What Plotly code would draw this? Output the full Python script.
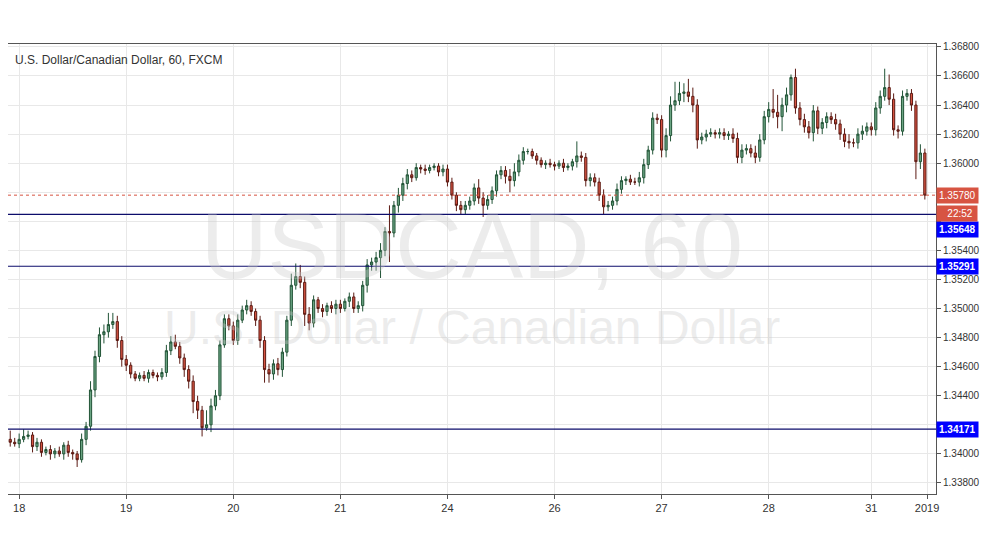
import plotly.graph_objects as go

# USDCAD hourly closes, one list per day
closes = [
    # Dec 18
    1.3408, 1.3407, 1.3410, 1.3412, 1.3413, 1.3405, 1.3408, 1.3401, 1.3403, 1.3400, 1.3402, 1.3400, 1.3406,
    1.3401, 1.3400, 1.3396, 1.3410, 1.3419, 1.3444, 1.3467, 1.3482, 1.3484, 1.3489, 1.3491, 1.3478, 1.3465,
    # Dec 19
    1.3461, 1.3455, 1.3452, 1.3454, 1.3452, 1.3456, 1.3454, 1.3453, 1.3456, 1.3471, 1.3477, 1.3474,
    1.3466, 1.3458, 1.3450, 1.3436, 1.3430, 1.3418, 1.3420, 1.3433, 1.3440, 1.3475, 1.3493, 1.3488,
    # Dec 20
    1.3478, 1.3492, 1.3499, 1.3502, 1.3498, 1.3492, 1.3478, 1.3458, 1.3455, 1.3462, 1.3458, 1.3470,
    1.3492, 1.3516, 1.3522, 1.3518, 1.3496, 1.3490, 1.3506, 1.3500, 1.3498, 1.3502, 1.3500, 1.3503,
    # Dec 21
    1.3500, 1.3505, 1.3508, 1.3500, 1.3502, 1.3516, 1.3530, 1.3532, 1.3535, 1.3540, 1.3553, 1.3552,
    1.3571, 1.3578, 1.3586, 1.3592, 1.3590, 1.3597, 1.3596, 1.3595, 1.3597, 1.3598, 1.3594, 1.3596,
    # Dec 24
    1.3587, 1.3578, 1.3571, 1.3568, 1.3571, 1.3574, 1.3583, 1.3576, 1.3571, 1.3575, 1.3581, 1.3592,
    1.3595, 1.3591, 1.3588, 1.3594, 1.3602, 1.3608, 1.3608, 1.3605, 1.3602, 1.3599, 1.3600, 1.3599,
    # Dec 26
    1.3598, 1.3600, 1.3597, 1.3598, 1.3601, 1.3605, 1.3604, 1.3588, 1.3590, 1.3587, 1.3578, 1.3570,
    1.3571, 1.3574, 1.3582, 1.3588, 1.3589, 1.3587, 1.3587, 1.3590, 1.3599, 1.3609, 1.3631, 1.3630,
    # Dec 27
    1.3609, 1.3619, 1.3640, 1.3643, 1.3648, 1.3649, 1.3646, 1.3640, 1.3616, 1.3618, 1.3620, 1.3621,
    1.3620, 1.3621, 1.3619, 1.3620, 1.3617, 1.3604, 1.3609, 1.3610, 1.3607, 1.3604, 1.3616, 1.3632,
    # Dec 28
    1.3637, 1.3635, 1.3632, 1.3640, 1.3647, 1.3659, 1.3638, 1.3630, 1.3625, 1.3621, 1.3636, 1.3624,
    1.3628, 1.3632, 1.3630, 1.3627, 1.3620, 1.3615, 1.3614, 1.3614, 1.3620, 1.3622, 1.3625,
    # Dec 31
    1.3623, 1.3638, 1.3646, 1.3652, 1.3644, 1.3623, 1.3622, 1.3646, 1.3648, 1.3640, 1.3601, 1.3607, 1.3578,
]
first_open = 1.3410

# wick lengths in pips above / below the candle body
wick_up = [
    6, 3, 4, 5, 3, 2, 3, 2, 2, 3, 2, 3, 2, 3, 2, 2, 4, 3, 6, 4, 5, 5, 8, 6, 4, 3,
    3, 2, 2, 2, 3, 2, 2, 2, 3, 4, 4, 5, 3, 3, 3, 4, 4, 3, 10, 5, 4, 3, 3, 3,
    3, 4, 3, 4, 3, 2, 3, 3, 4, 3, 4, 3, 3, 8, 9, 8, 4, 5, 3, 2, 3, 2, 3, 3,
    3, 2, 3, 3, 3, 3, 4, 3, 4, 5, 3, 18, 3, 5, 4, 4, 3, 3, 2, 3, 2, 2, 2, 3,
    3, 3, 2, 3, 3, 3, 3, 6, 4, 3, 3, 3, 3, 3, 5, 6, 4, 3, 2, 2, 2, 2, 2, 3,
    2, 2, 3, 2, 2, 10, 3, 3, 3, 3, 3, 4, 3, 3, 4, 3, 2, 3, 3, 4, 4, 3, 4, 3,
    3, 5, 6, 13, 8, 6, 9, 6, 4, 3, 3, 3, 2, 3, 3, 2, 4, 4, 4, 3, 3, 5, 4, 4,
    5, 14, 12, 5, 5, 2, 6, 4, 4, 4, 4, 3, 3, 3, 3, 4, 3, 4, 5, 3, 4, 4, 3,
    3, 4, 4, 13, 9, 4, 3, 4, 3, 3, 3, 6, 3,
]
wick_down = [
    3, 2, 3, 2, 2, 4, 3, 3, 2, 4, 3, 2, 4, 3, 4, 5, 2, 4, 3, 5, 4, 6, 4, 3, 5, 5,
    4, 3, 2, 2, 2, 3, 2, 3, 2, 3, 3, 2, 4, 5, 5, 8, 6, 6, 2, 5, 3, 3, 2, 3,
    3, 3, 2, 3, 3, 4, 5, 9, 6, 4, 4, 5, 3, 4, 3, 4, 8, 5, 3, 3, 4, 3, 3, 4,
    3, 2, 4, 3, 3, 4, 5, 4, 6, 14, 4, 20, 3, 5, 4, 4, 3, 2, 3, 3, 2, 2, 3, 3,
    3, 3, 4, 3, 3, 3, 3, 4, 8, 3, 3, 4, 3, 5, 8, 4, 3, 3, 2, 2, 3, 2, 3, 2,
    3, 2, 3, 2, 3, 4, 3, 4, 4, 3, 4, 5, 3, 3, 3, 3, 3, 2, 2, 3, 4, 3, 3, 3,
    5, 5, 4, 4, 3, 6, 4, 5, 6, 3, 3, 2, 3, 3, 3, 3, 3, 4, 4, 3, 3, 4, 3, 3,
    4, 4, 8, 10, 5, 4, 4, 4, 4, 4, 6, 4, 4, 4, 3, 4, 4, 4, 4, 3, 4, 4, 3,
    4, 4, 4, 3, 4, 4, 5, 3, 3, 4, 12, 5, 3,
]

day_labels = ["18", "19", "20", "21", "24", "26", "27", "28", "31", "2019"]
day_index = [2, 26, 50, 74, 98, 122, 146, 170, 193, 205.5]

levels = [1.35648, 1.35291, 1.34171]
level_shift = [-15, 0, 0]  # label boxes nudged so they do not sit on each other
last_price = 1.35780
y_ticks = [round(1.338 + 0.002 * i, 3) for i in range(16)]
hidden_ticks = [1.358, 1.356, 1.342]  # covered by the price boxes in the original

n = len(closes)
opens = [first_open] + closes[:-1]
highs = [max(o, c) + wick_up[i] * 0.0001 for i, (o, c) in enumerate(zip(opens, closes))]
lows = [min(o, c) - wick_down[i] * 0.0001 for i, (o, c) in enumerate(zip(opens, closes))]
x = list(range(n))

fig = go.Figure()
fig.add_trace(go.Candlestick(
    x=x, open=opens, high=highs, low=lows, close=closes,
    increasing=dict(line=dict(color="#225437", width=1), fillcolor="#6ba583"),
    decreasing=dict(line=dict(color="#5b1a13", width=1), fillcolor="#d75442"),
    whiskerwidth=0, showlegend=False,
))

for lv in levels:
    fig.add_hline(y=lv, line=dict(color="#0d0d6b", width=1.2))
fig.add_hline(y=last_price, line=dict(color="#d75442", width=1, dash="dot"))

box_font = dict(color="white", size=10, family="Arial")
ann = []
# right-side price boxes
for lv, sh in zip(levels, level_shift):
    ann.append(dict(x=1.0, y=lv, xref="paper", yref="y", xanchor="left", text=f"<b>{lv:.5f}</b>",
                    showarrow=False, bgcolor="#0000ff", font=box_font, borderpad=2, yshift=sh))
ann.append(dict(x=1.0, y=last_price, xref="paper", yref="y", xanchor="left", text=f"{last_price:.5f}",
                showarrow=False, bgcolor="#d75442", font=box_font, borderpad=2))
ann.append(dict(x=1.0, y=last_price, xref="paper", yref="y", xanchor="left", text="&nbsp;&nbsp;&nbsp;22:52&nbsp;",
                showarrow=False, bgcolor="#d75442", font=box_font, borderpad=2, yshift=-18))
# watermark and title
ann.append(dict(x=0.5, y=0.67, xref="paper", yref="paper", text="USDCAD, 60", showarrow=False,
                font=dict(size=92, color="rgba(200,200,200,0.35)", family="Arial")))
ann.append(dict(x=0.5, y=0.37, xref="paper", yref="paper", text="U.S. Dollar / Canadian Dollar", showarrow=False,
                font=dict(size=48, color="rgba(200,200,200,0.35)", family="Arial")))
ann.append(dict(x=0.005, y=0.985, xref="paper", yref="paper", xanchor="left", yanchor="top",
                text="U.S. Dollar/Canadian Dollar, 60, FXCM", showarrow=False,
                font=dict(size=12, color="#333333", family="Arial")))

fig.update_layout(
    width=1002, height=557,
    margin=dict(l=0, r=74, t=36, b=71),
    paper_bgcolor="white", plot_bgcolor="white",
    annotations=ann,
    xaxis=dict(range=[-0.5, n + 1.5], tickvals=day_index, ticktext=day_labels, showgrid=True,
               gridcolor="#e8e8e8", rangeslider=dict(visible=False), showline=True, linecolor="#555",
               mirror=True, ticks="outside", ticklen=4, tickcolor="#555", automargin=False,
               tickfont=dict(size=11, color="#333", family="Arial"), zeroline=False),
    yaxis=dict(side="right", range=[1.33724, 1.3682], tickvals=y_ticks,
               ticktext=["" if t in hidden_ticks else f"{t:.5f}" for t in y_ticks],
               showgrid=True, gridcolor="#e8e8e8", showline=True, linecolor="#555", mirror=True,
               ticks="outside", ticklen=4, tickcolor="#555", automargin=False,
               tickfont=dict(size=10, color="#333", family="Arial"), zeroline=False),
)

fig.write_html("out.html")
